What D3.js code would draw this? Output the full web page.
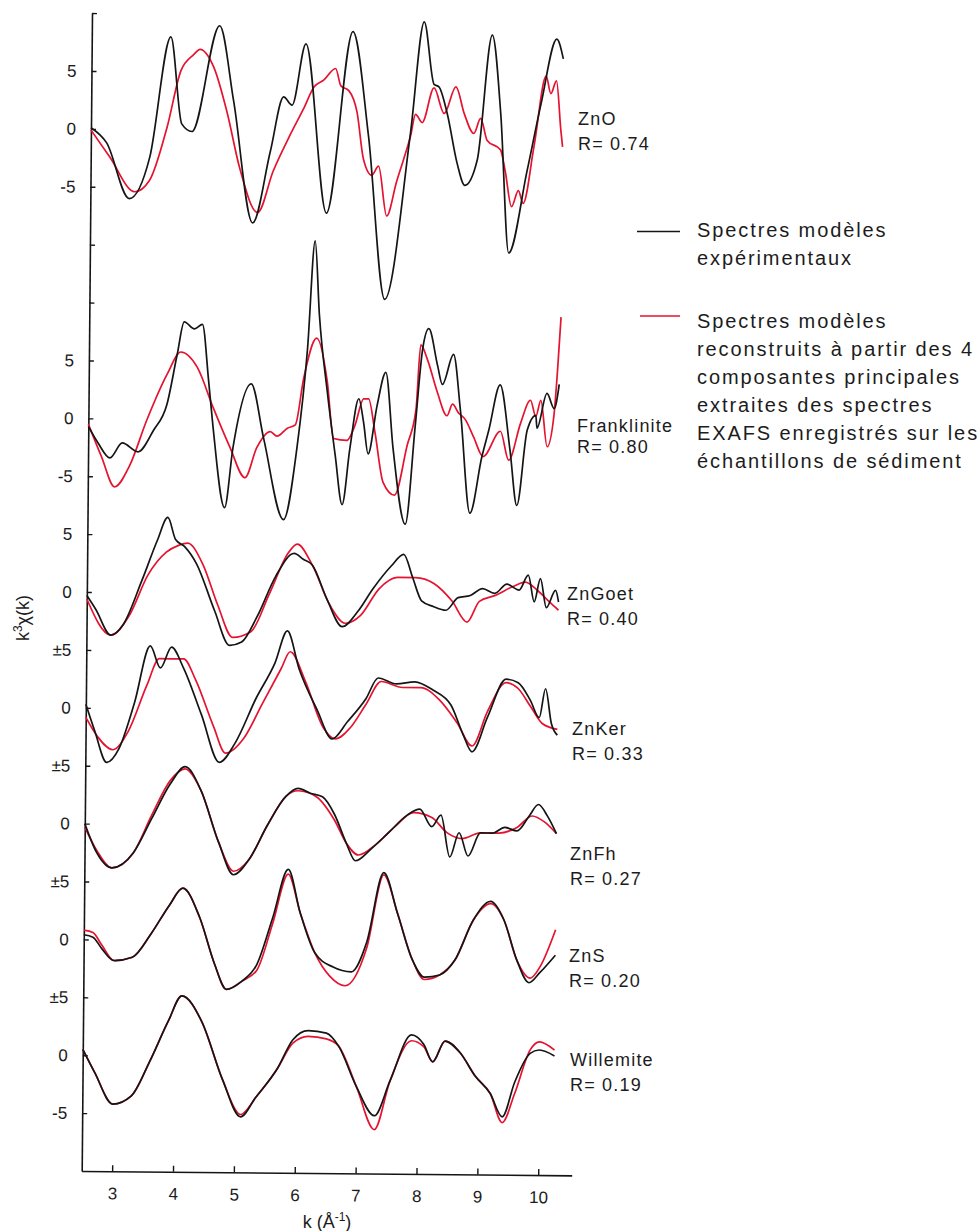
<!DOCTYPE html>
<html><head><meta charset="utf-8">
<script src="https://cdn.jsdelivr.net/npm/d3@7"></script>
<style>
body{margin:0;background:#fff;}
svg text{font-family:"Liberation Sans",Arial,Helvetica,sans-serif;fill:#1c1c1c;}
</style></head><body>
<svg id="chart" width="980" height="1231"></svg>
<script>
// ---------------- DATA ----------------
const kTicks = [3, 4, 5, 6, 7, 8, 9, 10];
const yTickValues = [100, 95, 90, 85, 80, 75, 70, 65, 60, 55, 50, 45, 40, 35, 30, 25, 20, 15, 10, 5];
const yTickLabels = ["", "5", "0", "-5", "", "", "5", "0", "-5", "5", "0", "±5", "0", "±5", "0", "±5", "0", "±5", "0", "-5"];
const panelNames = ["ZnO", "Franklinite", "ZnGoet", "ZnKer", "ZnFh", "ZnS", "Willemite"];
const panelR = ["0.74", "0.80", "0.40", "0.33", "0.27", "0.20", "0.19"];
const panelOffsets = [90, 65, 50, 40, 30, 20, 10];

const znoExp = [[2.5,0.1],[2.76,-1.2],[3.14,-6.0],[3.47,-2.4],[3.8,8.0],[3.99,0.5],[4.16,-0.15],[4.6,9.0],[4.84,2.5],[5.17,-8.0],[5.45,-1.8],[5.66,2.9],[5.8,2.2],[6.02,7.5],[6.38,-7.1],[6.79,8.6],[7.06,-0.4],[7.35,-14.5],[7.75,-0.1],[7.96,9.5],[8.13,4.1],[8.21,3.9],[8.35,1.6],[8.52,-2.7],[8.65,-4.6],[8.85,-2.4],[9.08,8.4],[9.23,1.6],[9.38,-10.4],[9.67,-3.3],[9.89,2.5],[10.14,8.1],[10.25,6.4]];
const znoRec = [[2.5,-0.1],[2.81,-2.4],[3.23,-5.4],[3.47,-4.4],[3.75,0.2],[3.97,5.1],[4.18,6.5],[4.28,6.95],[4.51,5.4],[4.73,1.6],[4.95,-3.3],[5.25,-7.1],[5.5,-3.5],[5.77,-0.4],[5.99,1.9],[6.16,3.8],[6.32,4.4],[6.51,5.4],[6.6,3.9],[6.73,3.5],[6.87,1.6],[6.98,-2.4],[7.12,-3.8],[7.23,-3.0],[7.37,-7.3],[7.53,-4.3],[7.64,-2.4],[7.75,-0.4],[7.83,1.5],[7.94,0.8],[8.13,3.8],[8.3,1.6],[8.49,3.9],[8.63,1.6],[8.79,-0.1],[8.9,1.2],[9.01,-0.7],[9.23,-1.5],[9.31,-3.3],[9.42,-6.4],[9.53,-5.0],[9.61,-6.1],[9.78,-1.2],[9.97,4.9],[10.05,3.4],[10.14,4.5],[10.22,0.2],[10.25,-1.2]];

const frankExp = [[2.5,-0.7],[2.66,-2.1],[2.86,-3.4],[3.06,-2.1],[3.32,-2.85],[3.57,-1.0],[3.79,1.3],[3.95,5.6],[4.06,8.4],[4.23,7.8],[4.36,8.2],[4.47,3.3],[4.55,-0.7],[4.75,-7.6],[4.88,-2.4],[5.17,3.1],[5.38,-1.55],[5.72,-8.6],[5.93,-2.4],[6.09,6.2],[6.2,15.5],[6.28,9.1],[6.42,2.5],[6.56,-3.0],[6.68,-7.25],[6.8,-2.4],[6.94,1.9],[7.02,-0.1],[7.1,-2.85],[7.24,1.3],[7.38,4.2],[7.51,-2.4],[7.72,-8.9],[7.87,-0.4],[7.98,6.2],[8.08,8.0],[8.23,4.8],[8.31,3.2],[8.49,5.8],[8.61,1.0],[8.78,-7.9],[8.97,-3.0],[9.08,-0.7],[9.26,3.2],[9.43,-2.4],[9.55,-7.2],[9.71,-0.7],[9.85,0.6],[9.87,-0.5],[10.03,2.5],[10.15,1.2],[10.23,3.3]];
const frankRec = [[2.5,-0.5],[2.72,-3.3],[2.94,-5.9],[3.18,-4.1],[3.46,-0.1],[3.79,3.9],[4.01,5.8],[4.28,4.5],[4.55,1.0],[4.83,-2.4],[5.08,-5.0],[5.27,-2.4],[5.49,-1.0],[5.6,-1.4],[5.77,-0.7],[5.9,-0.4],[6.03,3.6],[6.24,7.1],[6.42,3.3],[6.53,-1.55],[6.75,-1.7],[6.88,-0.4],[7.02,1.9],[7.1,1.9],[7.21,-1.0],[7.35,-5.3],[7.54,-6.4],[7.74,-2.1],[7.88,1.0],[7.95,6.6],[8.06,5.35],[8.23,2.5],[8.39,0.5],[8.48,1.5],[8.58,0.75],[8.69,0.2],[8.83,-1.3],[8.99,-3.0],[9.27,-0.8],[9.41,-3.3],[9.6,-0.1],[9.76,1.9],[9.85,0.5],[9.93,1.9],[10.04,-2.1],[10.15,0.75],[10.2,4.5],[10.25,9.1]];

const goetExp = [[2.5,-0.3],[2.65,-1.5],[2.9,-3.7],[3.1,-2.8],[3.4,1],[3.65,4.5],[3.82,6.5],[3.95,4.6],[4.1,4],[4.3,2.5],[4.6,-1.5],[4.85,-4.5],[5.05,-4.2],[5.3,-2],[5.6,1.5],[5.9,3.5],[6.05,3],[6.2,2.5],[6.45,-0.5],[6.7,-2.8],[6.95,-1.5],[7.2,0.5],[7.5,2.5],[7.7,3.5],[7.85,1.5],[8.0,-0.5],[8.2,-1],[8.4,-1.3],[8.6,-0.2],[8.8,0],[9.0,0.6],[9.2,0.2],[9.4,1],[9.6,0.5],[9.75,1.8],[9.85,-0.5],[9.95,1.5],[10.05,-1],[10.2,0.5],[10.25,-0.5]];
const goetRec = [[2.5,-0.6],[2.9,-3.7],[3.2,-2],[3.5,1.5],[3.8,3.5],[4.0,4.1],[4.15,4.3],[4.4,2.5],[4.65,-1],[4.9,-3.8],[5.2,-3.3],[5.5,0],[5.8,3.5],[5.95,4.3],[6.2,2.5],[6.5,-1],[6.75,-2.5],[7.0,-1.8],[7.3,0.5],[7.6,1.5],[7.9,1.5],[8.2,1],[8.5,-0.5],[8.75,-2.3],[8.95,-0.5],[9.2,0],[9.5,0.8],[9.7,1.2],[9.9,0.5],[10.1,-0.5],[10.25,-1.2]];

const kerExp = [[2.5,0.3],[2.65,-2],[2.85,-4.7],[3.05,-3.5],[3.3,0.5],[3.55,5.4],[3.72,3.5],[3.9,5.3],[4.1,3.5],[4.4,-0.5],[4.7,-4.6],[4.95,-3],[5.3,1],[5.6,4],[5.8,6.8],[6.0,3.5],[6.3,0],[6.55,-2.5],[6.8,-1],[7.1,1],[7.3,2.8],[7.6,2.3],[7.9,2.5],[8.2,1.8],[8.5,0.5],[8.7,-2],[8.85,-3.5],[9.1,-0.5],[9.4,2.8],[9.6,2.5],[9.8,1],[9.95,-0.5],[10.05,2],[10.15,-1],[10.25,-2]];
const kerRec = [[2.5,-0.8],[2.7,-2.5],[2.95,-3.6],[3.2,-2],[3.5,2],[3.7,4.3],[4.1,4.3],[4.3,2.5],[4.6,-1.5],[4.8,-3.8],[5.1,-2.5],[5.4,0.5],[5.7,3.5],[5.85,5],[6.1,2.5],[6.4,-1.5],[6.6,-2.5],[6.85,-1.5],[7.1,0.5],[7.35,2.5],[7.7,2],[8.0,2],[8.3,1],[8.6,-1],[8.85,-3],[9.1,0],[9.4,2.5],[9.6,2],[9.8,0.5],[10.0,-1],[10.25,-1.5]];

const fhExp = [[2.5,0],[2.7,-2.5],[2.95,-3.8],[3.3,-2.5],[3.6,0.5],[3.9,3.5],[4.14,5],[4.4,3],[4.7,-1.5],[4.95,-4.3],[5.2,-3],[5.5,0],[5.8,2.5],[6.0,3.2],[6.2,2.8],[6.4,2.5],[6.6,1],[6.8,-1.5],[6.95,-3],[7.2,-2],[7.5,-0.5],[7.8,1],[8.0,1.5],[8.2,0],[8.35,1],[8.5,-2.6],[8.65,-0.5],[8.8,-2.5],[9.0,-0.5],[9.2,-0.5],[9.4,0],[9.6,-0.3],[9.8,1],[9.95,2],[10.1,1],[10.25,-0.5]];
const fhRec = [[2.5,-0.3],[2.7,-2.3],[2.95,-3.8],[3.3,-2.5],[3.6,0.8],[3.9,3.8],[4.14,4.8],[4.4,3],[4.7,-1.5],[4.95,-4],[5.2,-3],[5.5,0],[5.8,2.5],[6.0,3],[6.3,2.5],[6.6,0.5],[6.8,-1.5],[7.0,-2.5],[7.3,-1.5],[7.6,0],[7.9,1.2],[8.2,0.8],[8.45,-0.5],[8.7,-1],[9.0,-0.5],[9.3,-0.5],[9.6,0],[9.85,1],[10.05,0.5],[10.25,-0.5]];

const znsExp = [[2.5,0.4],[2.65,0.2],[2.8,-0.8],[3.0,-1.8],[3.3,-1.5],[3.6,0.5],[3.9,3],[4.12,4.5],[4.4,2],[4.65,-2],[4.85,-4.2],[5.1,-3.5],[5.35,-2],[5.6,2],[5.85,6.2],[6.05,2.5],[6.3,-1],[6.6,-2.2],[6.9,-2.6],[7.15,0],[7.42,6],[7.65,2.5],[7.9,-1.5],[8.1,-3],[8.35,-2.8],[8.6,-1.5],[8.9,2],[9.18,3.6],[9.4,2],[9.62,-1.5],[9.82,-3.4],[10.0,-2.5],[10.25,-1]];
const znsRec = [[2.5,0.8],[2.65,0.6],[2.8,-0.5],[3.0,-1.8],[3.3,-1.5],[3.6,0.5],[3.9,3],[4.12,4.5],[4.4,2],[4.65,-2],[4.85,-4.2],[5.1,-3.5],[5.35,-2.5],[5.6,1.5],[5.85,5.8],[6.05,2.5],[6.3,-1],[6.55,-3],[6.8,-3.8],[7.15,-0.5],[7.42,5.8],[7.65,2.5],[7.9,-1.5],[8.1,-3.2],[8.35,-2.8],[8.6,-1.5],[8.9,2],[9.18,3.4],[9.4,2],[9.62,-1.5],[9.84,-3],[10.0,-2],[10.25,1.2]];

const willExp = [[2.5,0.5],[2.7,-1.5],[3.0,-4.2],[3.3,-3.5],[3.6,-0.5],[3.9,3],[4.12,5.2],[4.45,3],[4.8,-2],[5.1,-5.2],[5.35,-3.5],[5.7,-1],[5.95,1.5],[6.2,2.3],[6.5,2.1],[6.7,1],[7.0,-2.5],[7.3,-5],[7.55,-2],[7.9,2],[8.1,1.2],[8.25,-0.3],[8.45,1.5],[8.7,0.5],[8.95,-1.5],[9.2,-3],[9.4,-5],[9.6,-2],[9.85,0.5],[10.0,0.8],[10.25,0.3]];
const willRec = [[2.5,0.5],[2.7,-1.5],[3.0,-4.2],[3.3,-3.5],[3.6,-0.5],[3.9,3],[4.12,5.2],[4.45,3],[4.8,-2],[5.1,-5],[5.35,-3.5],[5.7,-1],[5.95,1.2],[6.2,1.8],[6.5,1.6],[6.7,1],[7.0,-2.5],[7.3,-6.2],[7.55,-2],[7.9,1.5],[8.1,1],[8.25,-0.3],[8.45,1.5],[8.7,0.5],[8.95,-1.5],[9.2,-3],[9.4,-5.5],[9.6,-3],[9.85,0.8],[10.0,1.5],[10.25,0.8]];

const expSeries = [znoExp, frankExp, goetExp, kerExp, fhExp, znsExp, willExp];
const recSeries = [znoRec, frankRec, goetRec, kerRec, fhRec, znsRec, willRec];

const legendExp = ["Spectres modèles", "expérimentaux"];
const legendRec = ["Spectres modèles", "reconstruits à partir des 4", "composantes principales", "extraites des spectres", "EXAFS enregistrés sur les", "échantillons de sédiment"];

// ---------------- LAYOUT ----------------
const svg = d3.select("#chart");
const x0 = 81.7, x1 = 571.7, yBot = 1171, yTop = 13;
const x = d3.scaleLinear().domain([2.5, 10.55]).range([x0, x1]);
const y = d3.scaleLinear().domain([0, 100]).range([yBot, yTop]);
const BLACK = "#151515", RED = "#e5132f";

const g = svg.append("g").attr("transform", `rotate(0.51, ${x0}, ${yBot})`);

// y axis
const yAxis = d3.axisLeft(y).tickValues(yTickValues)
  .tickFormat((d, i) => yTickLabels[i]).tickSizeInner(-5).tickSizeOuter(0).tickPadding(15);
const ya = g.append("g").attr("transform", `translate(${x0},0)`).call(yAxis);
ya.select(".domain").attr("stroke", BLACK).attr("stroke-width", 1.6);
ya.selectAll(".tick line").attr("stroke", BLACK).attr("stroke-width", 1.4);
ya.selectAll(".tick text").attr("font-size", 17).attr("font-family", "Liberation Sans, Arial, sans-serif").attr("fill", "#1c1c1c");

// x axis
const xAxis = d3.axisBottom(x).tickValues(kTicks).tickSizeInner(-6).tickSizeOuter(0).tickPadding(16);
const xa = g.append("g").attr("transform", `translate(0,${yBot})`).call(xAxis);
xa.select(".domain").attr("stroke", BLACK).attr("stroke-width", 1.6);
xa.selectAll(".tick line").attr("stroke", BLACK).attr("stroke-width", 1.4);
xa.selectAll(".tick text").attr("font-size", 17).attr("font-family", "Liberation Sans, Arial, sans-serif").attr("fill", "#1c1c1c");

// axis titles
const xt = svg.append("text").attr("x", 327).attr("y", 1228).attr("text-anchor", "middle").attr("font-size", 18);
xt.append("tspan").text("k (Å");
xt.append("tspan").attr("font-size", 12).attr("dy", -7).text("-1");
xt.append("tspan").attr("dy", 7).text(")");

const yt = svg.append("text").attr("transform", "translate(29,618) rotate(-90)").attr("text-anchor", "middle").attr("font-size", 18);
yt.append("tspan").text("k");
yt.append("tspan").attr("font-size", 12).attr("dy", -7).text("3");
yt.append("tspan").attr("dy", 7).text("χ(k)");

// curves
panelOffsets.forEach((off, i) => {
  const line = d3.line().x(d => x(d[0])).y(d => y(off + d[1])).curve(d3.curveMonotoneX);
  g.append("path").datum(recSeries[i]).attr("d", line)
    .attr("fill", "none").attr("stroke", RED).attr("stroke-width", 1.7).attr("stroke-linejoin", "round");
  g.append("path").datum(expSeries[i]).attr("d", line)
    .attr("fill", "none").attr("stroke", BLACK).attr("stroke-width", 1.7).attr("stroke-linejoin", "round");
});

// panel labels
const labelPos = [[578,125,150],[577,432,453],[567,600,625],[572,735,760],[570,860,885],[569,962,987],[570,1066,1091]];
panelNames.forEach((n, i) => {
  const [lx, ly1, ly2] = labelPos[i];
  svg.append("text").attr("x", lx).attr("y", ly1).attr("font-size", 18).attr("letter-spacing", 1.2).text(n);
  svg.append("text").attr("x", lx).attr("y", ly2).attr("font-size", 18).attr("letter-spacing", 1.2).text("R= " + panelR[i]);
});

// legend
svg.append("line").attr("x1", 637).attr("x2", 680).attr("y1", 231.5).attr("y2", 231.5).attr("stroke", BLACK).attr("stroke-width", 1.6);
svg.append("line").attr("x1", 640).attr("x2", 680).attr("y1", 316).attr("y2", 316).attr("stroke", RED).attr("stroke-width", 1.6);
legendExp.forEach((t, i) => svg.append("text").attr("x", 697).attr("y", 237 + 28 * i).attr("font-size", 20).attr("letter-spacing", 1.9).text(t));
legendRec.forEach((t, i) => svg.append("text").attr("x", 697).attr("y", 328 + 28 * i).attr("font-size", 20).attr("letter-spacing", 1.9).text(t));
</script>
</body></html>
